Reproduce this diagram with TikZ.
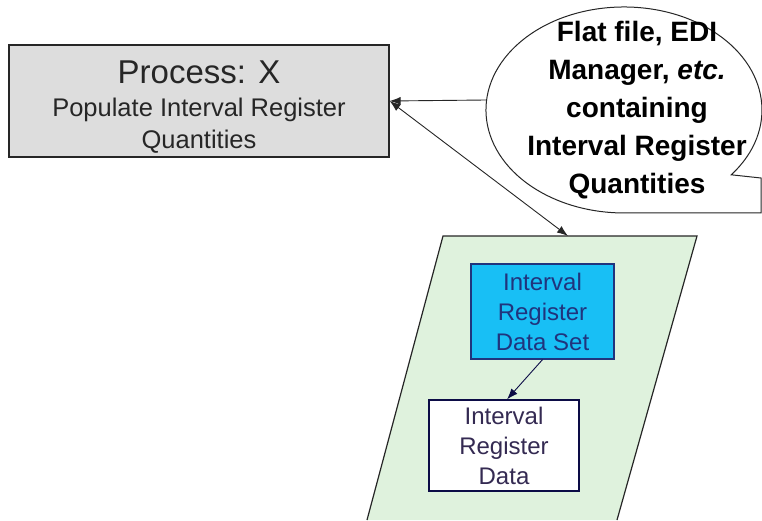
\documentclass[tikz,border=0pt]{standalone}
\usepackage{fontspec}
\setmainfont{Liberation Sans}
\usepackage{xcolor}
\usepackage{tikz}
\usetikzlibrary{arrows.meta}
\usetikzlibrary{calc}
\definecolor{procgray}{RGB}{221,221,221}
\definecolor{storegreen}{RGB}{223,242,221}
\definecolor{setblue}{RGB}{24,191,245}
\definecolor{setink}{RGB}{32,52,125}
\definecolor{dataink}{RGB}{52,42,82}
\definecolor{linkink}{RGB}{12,12,70}
\tikzstyle{proc} = [rectangle, draw=black!85, line width=1.3pt, fill=procgray, minimum width=380pt, minimum height=112pt, inner sep=0pt, align=center, text=black!85, font=\fontsize{25.5}{32}\selectfont]
\tikzstyle{bx} = [rectangle, line width=1.2pt, inner sep=0pt, align=center, font=\fontsize{24}{30}\selectfont]
\tikzstyle{flow} = [draw=black!85, line width=0.9pt, >={Latex[length=11pt,width=8pt]}]

\begin{document}
\begin{tikzpicture}[x=1pt,y=1pt]
	\useasboundingbox (0,0) rectangle (762,520);
	% data store (runs off the bottom)
		\fill[storegreen] (367,0) -- (443,284) -- (697,284) -- (617,0) -- cycle;
		\draw[line width=1.2pt, draw=black!85] (367,0) -- (443,284) -- (697,284) -- (617,0);
		\coordinate (storeN) at (568,284);
	% process
		\node[proc] (proc) at (199,419) {\rule{0pt}{34pt}{\fontsize{33}{34}\selectfont Process: X}\\[1pt]
			Populate Interval Register\\Quantities};
	% callout
		\draw[line width=1pt, draw=black!85, fill=white] (731.2,345.2)
			arc[start angle=-39, end angle=270, x radius=138, y radius=103]
			-- (761,307) -- (761,342) -- cycle;
		\coordinate (bubbleW) at (486,420);
		\node[align=center, font=\bfseries\fontsize{28}{38}\selectfont] (src) at (637,410)
			{Flat file, EDI\\Manager, \textit{etc.}\\containing\\Interval Register\\Quantities};
	% records
		\node[bx, draw=setink, fill=setblue, text=setink, minimum width=143pt, minimum height=95pt] (dset) at (542.5,208.5) {Interval\\Register\\Data Set};
		\node[bx, draw=linkink, fill=white, text=dataink, minimum width=150pt, minimum height=91pt] (ird) at (504,74.5) {Interval\\Register\\Data};
	% links
		\draw[flow, ->] (bubbleW) -- (proc.east);
		\draw[flow, <->] (proc.east) -- (storeN);
		\draw[flow, ->, draw=linkink] (dset.south) -- ($(ird.north)+(3,0)$);
	\end{tikzpicture}
\end{document}
